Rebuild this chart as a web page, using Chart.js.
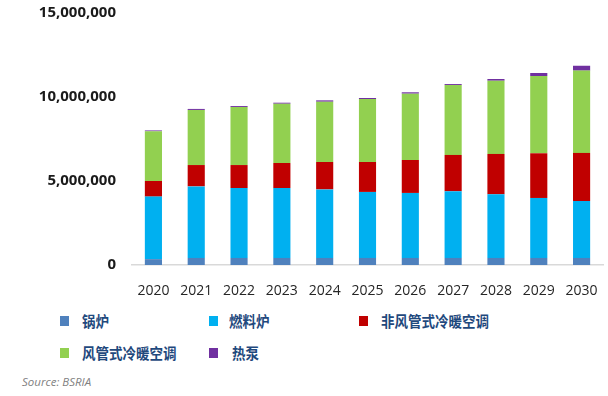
<!DOCTYPE html>
<html>
<head>
<meta charset="utf-8">
<script src="https://cdn.jsdelivr.net/npm/chart.js@4/dist/chart.umd.min.js"></script>
<style>
  html, body { margin: 0; padding: 0; background: #fff; }
  #wrap { position: relative; width: 608px; height: 396px; overflow: hidden; }
  #chartBox { position: absolute; left: 0; top: -4px; width: 608px; height: 304px; }
  .leg { position: absolute; font-family: "Noto Sans CJK SC", sans-serif; font-weight: bold;
         font-size: 15px; color: #1f497d; line-height: 16px; white-space: nowrap;
         transform: scaleX(0.9); transform-origin: left center; }
  .sw { position: absolute; width: 9px; height: 10px; }
  #source { position: absolute; left: 22px; top: 374px; font-family: "Open Sans", sans-serif;
            font-style: italic; font-size: 11.5px; color: #7f7f7f; }
</style>
</head>
<body>
<div id="wrap">
  <div id="chartBox"><canvas id="heatChart"></canvas></div>
  <div id="legend"></div>
  <div id="source">Source: BSRIA</div>
</div>
<script>
// 年份
const years = ['2020', '2021', '2022', '2023', '2024', '2025', '2026', '2027', '2028', '2029', '2030'];

// 各类设备销量（台）
const boiler = [350000, 420000, 420000, 420000, 420000, 420000, 420000, 420000, 420000, 420000, 420000];
const furnace = [3720000, 4260000, 4160000, 4160000, 4080000, 3930000, 3870000, 3970000, 3790000, 3570000, 3390000];
const ductlessHvac = [930000, 1270000, 1370000, 1490000, 1630000, 1780000, 1960000, 2160000, 2400000, 2660000, 2860000];
const ductedHvac = [2960000, 3280000, 3450000, 3530000, 3590000, 3750000, 3950000, 4160000, 4360000, 4600000, 4900000];
const heatPump = [50000, 60000, 60000, 60000, 80000, 60000, 80000, 60000, 100000, 180000, 290000];

// y轴刻度
const yTicks = [0, 5000000, 10000000, 15000000];

const seriesNames = ['锅炉', '燃料炉', '非风管式冷暖空调', '风管式冷暖空调', '热泵'];
const seriesColors = ['#4f81bd', '#00b0f0', '#c00000', '#92d050', '#7030a0'];
const seriesData = [boiler, furnace, ductlessHvac, ductedHvac, heatPump];

// 图例位置
const legendPos = [
  { x: 60, y: 316, tx: 82 },
  { x: 209, y: 316, tx: 229 },
  { x: 359, y: 316, tx: 381 },
  { x: 60, y: 348, tx: 82 },
  { x: 209, y: 348, tx: 232 }
];

function buildLegend() {
  const box = document.getElementById('legend');
  seriesNames.forEach((name, i) => {
    const p = legendPos[i];
    const sw = document.createElement('div');
    sw.className = 'sw';
    sw.style.left = p.x + 'px';
    sw.style.top = p.y + 'px';
    sw.style.background = seriesColors[i];
    box.appendChild(sw);
    const t = document.createElement('div');
    t.className = 'leg';
    t.style.left = p.tx + 'px';
    t.style.top = (p.y - 3) + 'px';
    t.textContent = name;
    box.appendChild(t);
  });
}

function formatNum(v) {
  return v.toLocaleString('en-US');
}

buildLegend();

const ctx = document.getElementById('heatChart').getContext('2d');
new Chart(ctx, {
  type: 'bar',
  data: {
    labels: years,
    datasets: seriesNames.map((name, i) => ({
      label: name,
      data: seriesData[i],
      backgroundColor: seriesColors[i],
      barPercentage: 0.4,
      categoryPercentage: 1
    }))
  },
  options: {
    responsive: true,
    maintainAspectRatio: false,
    animation: false,
    layout: { padding: { top: 0, right: 5, left: 0, bottom: 0 } },
    plugins: {
      legend: { display: false },
      tooltip: { enabled: false }
    },
    scales: {
      x: {
        stacked: true,
        grid: { display: false },
        border: { display: true, color: '#d9d9d9', width: 1.5 },
        ticks: {
          color: '#262626',
          padding: 10,
          font: { family: 'Open Sans', size: 14 }
        },
        afterFit: s => { s.height = 35; }
      },
      y: {
        stacked: true,
        min: 0,
        max: 15000000,
        grid: { display: false },
        border: { display: false },
        afterBuildTicks: s => { s.ticks = yTicks.map(v => ({ value: v })); },
        ticks: {
          color: '#1a1a1a',
          padding: 8,
          font: { family: 'Open Sans', size: 15, weight: 'bold' },
          callback: v => formatNum(v)
        },
        afterFit: s => { s.width = 132; }
      }
    }
  }
});
</script>
</body>
</html>
